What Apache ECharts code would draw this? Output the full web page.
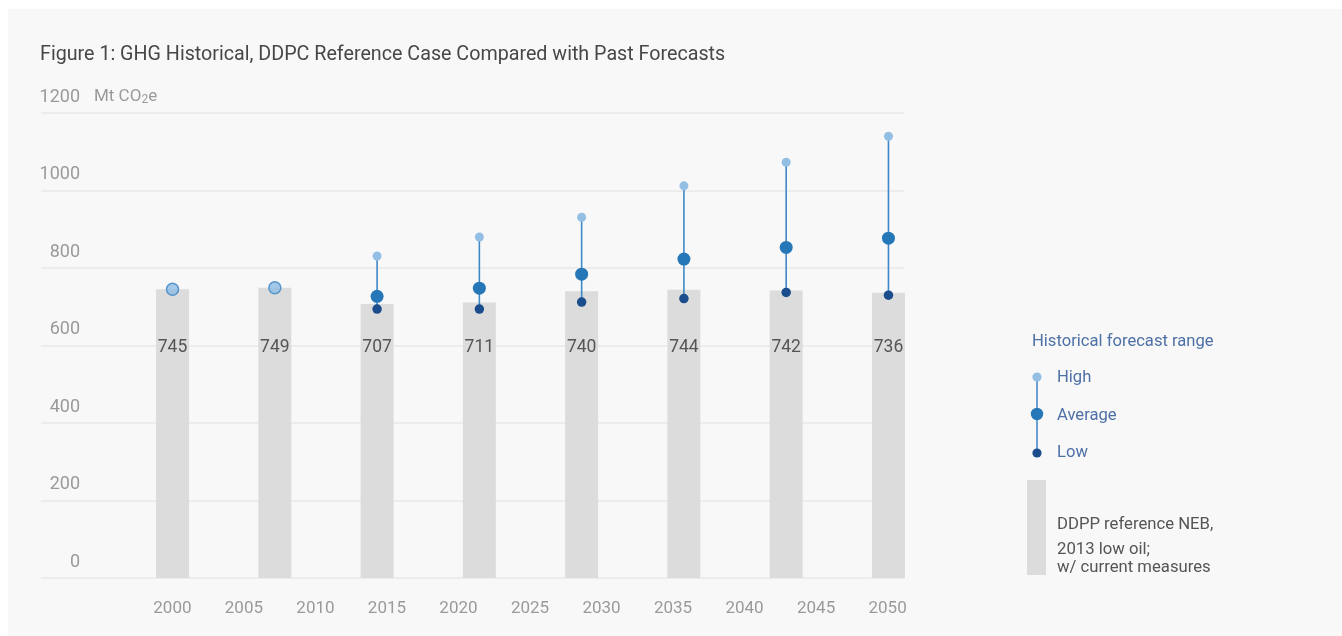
<!DOCTYPE html>
<html>
<head>
<meta charset="utf-8">
<script src="https://cdn.jsdelivr.net/npm/echarts@6/dist/echarts.min.js"></script>
<style>
  html, body { margin: 0; padding: 0; background: #ffffff; }
  #chart { width: 1342px; height: 636px; }
</style>
</head>
<body>
<div id="chart"></div>
<script>
// year labels along the bottom
const years = ['2000', '2005', '2010', '2015', '2020', '2025', '2030', '2035', '2040', '2045', '2050']
// bar slots (spread evenly between 2000 and 2050)
const barSlots = ['2000', '2007', '2014', '2021', '2029', '2036', '2043', '2050']
const ddppRef = [745, 749, 707, 711, 740, 744, 742, 736]
const historical = [745, 749, null, null, null, null, null, null]
const fcHigh = [null, null, 831, 880, 931, 1012, 1073, 1140]
const fcAvg = [null, null, 727, 748, 784, 823, 853, 877]
const fcLow = [null, null, 694, 694, 712, 721, 737, 730]
const yMin = 0
const yMax = 1200
const yStep = 200

const FONT = 'Roboto, "Noto Sans", sans-serif'

let rangeData = []
fcHigh.forEach(function (h, i) {
    if (h != null) rangeData.push([i, fcLow[i], h])
})

let chart = echarts.init(document.getElementById('chart'))
chart.setOption({
    backgroundColor: '#ffffff',
    animation: false,
    textStyle: { fontFamily: FONT },
    title: {
        text: 'Figure 1: GHG Historical, DDPC Reference Case Compared with Past Forecasts',
        left: 40,
        top: 45,
        padding: 0,
        textStyle: {
            fontFamily: FONT,
            fontSize: 19.7,
            fontWeight: 'normal',
            color: '#474747'
        }
    },
    grid: [
        // gridlines + y labels
        { left: 41, right: 438, top: 113, bottom: 58 },
        // bars and forecast dots
        { left: 121.4, right: 402.4, top: 113, bottom: 58 },
        // year labels
        { left: 172.4, right: 454.4, top: 113, bottom: 58 }
    ],
    xAxis: [
        { gridIndex: 0, type: 'value', show: false, min: 0, max: 1 },
        { gridIndex: 1, type: 'category', show: false, data: barSlots, boundaryGap: true },
        {
            gridIndex: 2,
            type: 'category',
            data: years,
            boundaryGap: false,
            axisLine: { show: false },
            axisTick: { show: false },
            axisLabel: {
                interval: 0,
                margin: 22,
                fontSize: 17,
                color: '#9a9a9a',
                fontFamily: FONT
            }
        }
    ],
    yAxis: [
        {
            gridIndex: 0,
            type: 'value',
            min: yMin,
            max: yMax,
            interval: yStep,
            name: '{a|Mt CO}{s|2}{a|e}',
            nameLocation: 'end',
            nameGap: 16,
            nameTextStyle: {
                align: 'left',
                verticalAlign: 'middle',
                padding: [0, 0, 0, 53],
                rich: {
                    a: { fontSize: 17, color: '#9a9a9a', fontFamily: FONT },
                    s: { fontSize: 12, color: '#9a9a9a', fontFamily: FONT, padding: [5, 0, 0, 0] }
                }
            },
            axisLine: { show: false },
            axisTick: { show: false },
            axisLabel: {
                inside: true,
                align: 'right',
                verticalAlign: 'bottom',
                margin: 39,
                padding: [0, 0, 7, 0],
                fontSize: 18,
                color: '#9a9a9a',
                fontFamily: FONT,
                formatter: function (v) { return String(v) }
            },
            splitLine: {
                lineStyle: { color: '#e9e9e9', width: 1.5 }
            }
        },
        { gridIndex: 1, type: 'value', show: false, min: yMin, max: yMax },
        { gridIndex: 2, type: 'value', show: false, min: yMin, max: yMax }
    ],
    graphic: [
        {
            type: 'rect', z: -10, silent: true,
            shape: { x: 8, y: 9, width: 1342, height: 636 },
            style: { fill: '#f8f8f8' }
        },
        {
            type: 'group', x: 1027, y: 330,
            children: [
                { type: 'text', x: 5, y: 12, style: { text: 'Historical forecast range', font: '16.6px ' + FONT, fill: '#4d70a6', verticalAlign: 'middle' } },
                { type: 'line', shape: { x1: 10, y1: 47, x2: 10, y2: 123 }, style: { stroke: '#4a8ac9', lineWidth: 1.6 } },
                { type: 'circle', shape: { cx: 10, cy: 47, r: 4.6 }, style: { fill: '#93bfe4' } },
                { type: 'circle', shape: { cx: 10, cy: 84, r: 6.2 }, style: { fill: '#2577b8' } },
                { type: 'circle', shape: { cx: 10, cy: 123, r: 4.6 }, style: { fill: '#1b4d8c' } },
                { type: 'text', x: 30, y: 48, style: { text: 'High', font: '16.6px ' + FONT, fill: '#4d70a6', verticalAlign: 'middle' } },
                { type: 'text', x: 30, y: 86, style: { text: 'Average', font: '16.6px ' + FONT, fill: '#4d70a6', verticalAlign: 'middle' } },
                { type: 'text', x: 30, y: 123, style: { text: 'Low', font: '16.6px ' + FONT, fill: '#4d70a6', verticalAlign: 'middle' } },
                { type: 'rect', shape: { x: 0, y: 150, width: 19, height: 95 }, style: { fill: '#dcdcdc' } },
                { type: 'text', x: 30, y: 195, style: { text: 'DDPP reference NEB,', font: '16.7px ' + FONT, fill: '#555555', verticalAlign: 'middle' } },
                { type: 'text', x: 30, y: 220, style: { text: '2013 low oil;', font: '16.7px ' + FONT, fill: '#555555', verticalAlign: 'middle' } },
                { type: 'text', x: 30, y: 238, style: { text: 'w/ current measures', font: '16.7px ' + FONT, fill: '#555555', verticalAlign: 'middle' } }
            ]
        }
    ],
    series: [
        {
            name: 'DDPP reference',
            type: 'bar',
            xAxisIndex: 1,
            yAxisIndex: 1,
            data: ddppRef,
            barWidth: 33,
            itemStyle: { color: '#dcdcdc' },
            label: {
                show: true,
                position: 'insideBottom',
                distance: 221,
                fontSize: 17.5,
                color: '#555555',
                fontFamily: FONT
            }
        },
        {
            name: 'Range',
            type: 'custom',
            xAxisIndex: 1,
            yAxisIndex: 1,
            data: rangeData,
            z: 3,
            renderItem: function (params, api) {
                let lo = api.coord([api.value(0), api.value(1)])
                let hi = api.coord([api.value(0), api.value(2)])
                return {
                    type: 'line',
                    shape: { x1: lo[0], y1: lo[1], x2: hi[0], y2: hi[1] },
                    style: { stroke: '#3f87c7', lineWidth: 1.6 }
                }
            }
        },
        {
            name: 'Historical',
            type: 'scatter',
            xAxisIndex: 1,
            yAxisIndex: 1,
            data: historical,
            symbolSize: 12,
            z: 4,
            itemStyle: { color: '#8fbbe3', borderColor: '#3c85c4', borderWidth: 1.5 }
        },
        {
            name: 'High',
            type: 'scatter',
            xAxisIndex: 1,
            yAxisIndex: 1,
            data: fcHigh,
            symbolSize: 9,
            z: 4,
            itemStyle: { color: '#93bfe4', opacity: 1 }
        },
        {
            name: 'Average',
            type: 'scatter',
            xAxisIndex: 1,
            yAxisIndex: 1,
            data: fcAvg,
            symbolSize: 13,
            z: 4,
            itemStyle: { color: '#2577b8', opacity: 1 }
        },
        {
            name: 'Low',
            type: 'scatter',
            xAxisIndex: 1,
            yAxisIndex: 1,
            data: fcLow,
            symbolSize: 9.5,
            z: 4,
            itemStyle: { color: '#1b4d8c', opacity: 1 }
        }
    ]
})
</script>
</body>
</html>
